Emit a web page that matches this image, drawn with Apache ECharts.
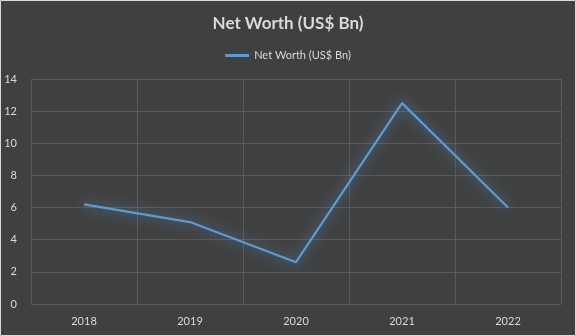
<!DOCTYPE html>
<html><head><meta charset="utf-8">
<script src="https://cdn.jsdelivr.net/npm/echarts@6/dist/echarts.min.js"></script>
<style>html,body{margin:0;padding:0;background:#404040;}#c{width:576px;height:336px;}</style>
</head><body><div id="c"></div>
<script>
const categories = ['2018','2019','2020','2021','2022'];
const netWorth = [6.2, 5.1, 2.6, 12.5, 6.0];
const seriesName = 'Net Worth (US$ Bn)';
const chartTitle = 'Net Worth (US$ Bn)';

const font = 'Lato, "Open Sans", sans-serif';
const chart = echarts.init(document.getElementById('c'));
chart.setOption({
  backgroundColor: '#404040',
  animation: false,
  title: {
    text: chartTitle, left: 'center', top: 10,
    textStyle: {color: '#d9d9d9', fontSize: 17, fontWeight: 'bold', fontFamily: font}
  },
  legend: {
    data: [seriesName], top: 45, left: 'center',
    itemWidth: 24, itemHeight: 3, icon: 'rect',
    textStyle: {color: '#d9d9d9', fontSize: 11, fontFamily: font}
  },
  graphic: [{type: 'rect', shape: {x: 0.5, y: 0.5, width: 575, height: 335},
    style: {fill: 'none', stroke: '#d9d9d9', lineWidth: 1}, silent: true}],
  grid: {left: 31, right: 15, top: 79, bottom: 32},
  xAxis: {
    type: 'category', data: categories, boundaryGap: true,
    axisLine: {show: false}, axisTick: {show: false},
    axisLabel: {color: '#d9d9d9', fontSize: 11, fontFamily: font, margin: 12},
    splitLine: {show: true, lineStyle: {color: '#595959', width: 1}}
  },
  yAxis: {
    type: 'value', min: 0, max: 14, interval: 2,
    axisLine: {show: false}, axisTick: {show: false},
    axisLabel: {color: '#d9d9d9', fontSize: 11, fontFamily: font, margin: 14},
    splitLine: {show: true, lineStyle: {color: '#595959', width: 1}}
  },
  series: [{
    name: seriesName, type: 'line', data: netWorth,
    symbol: 'none', z: 3,
    lineStyle: {color: '#5b9bd5', width: 2.25, shadowBlur: 14, shadowColor: 'rgba(91,155,213,1)'},
    itemStyle: {color: '#5b9bd5'}
  }]
});
</script></body></html>
